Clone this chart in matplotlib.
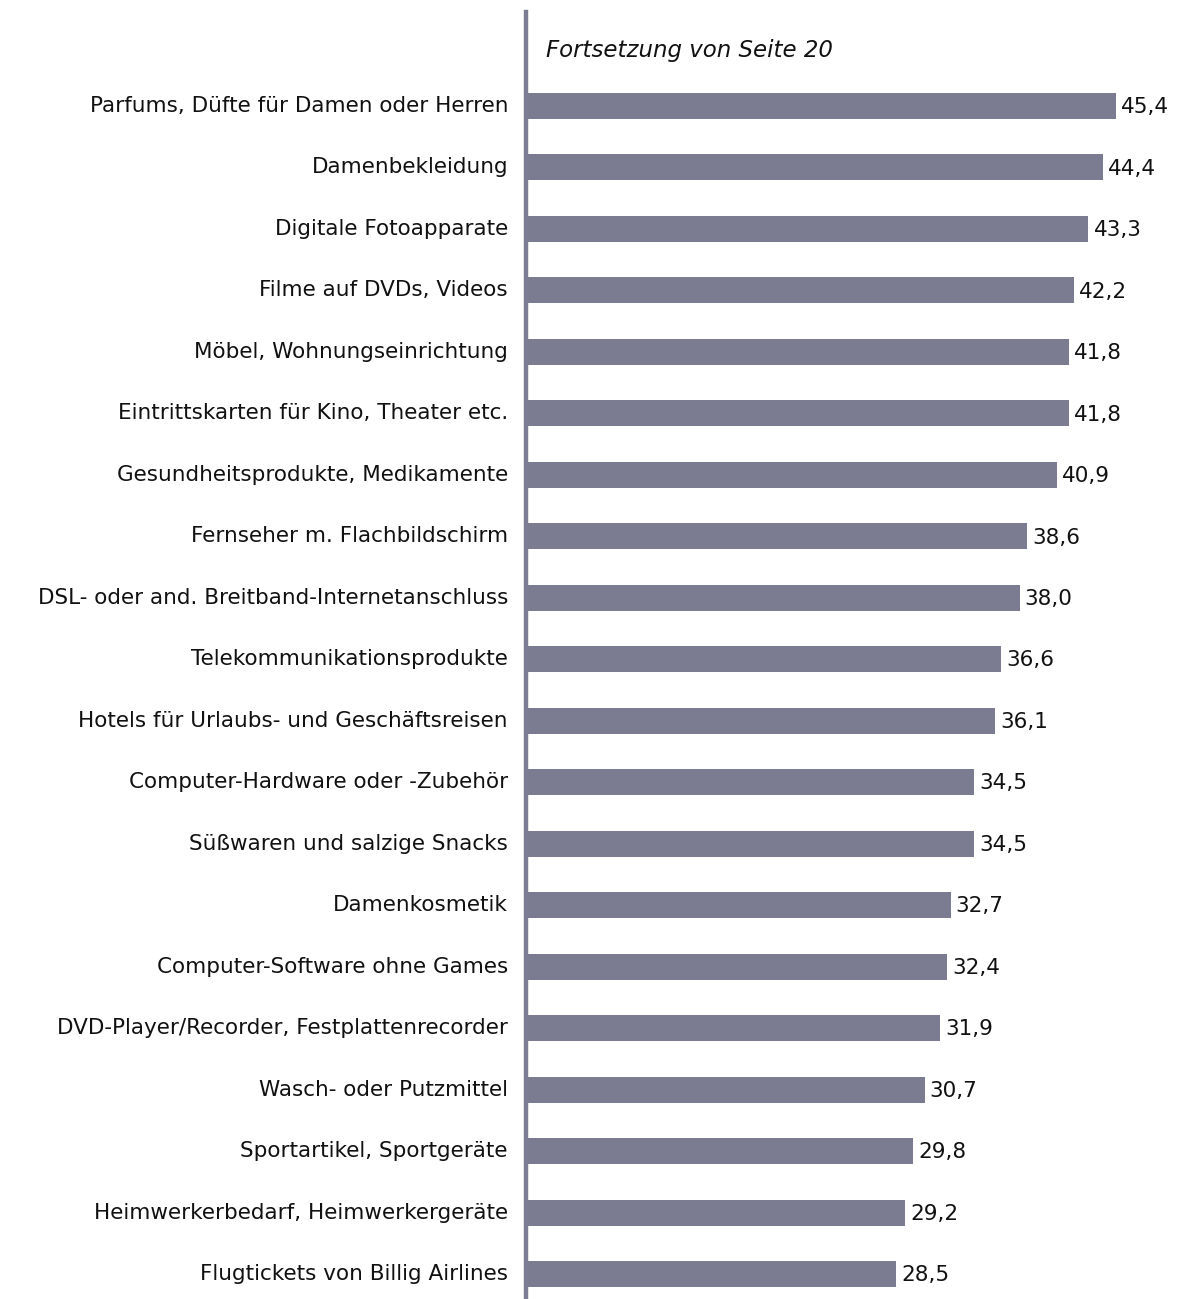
import matplotlib
matplotlib.use("Agg")
import matplotlib.pyplot as plt

categories = [
    "Parfums, Düfte für Damen oder Herren",
    "Damenbekleidung",
    "Digitale Fotoapparate",
    "Filme auf DVDs, Videos",
    "Möbel, Wohnungseinrichtung",
    "Eintrittskarten für Kino, Theater etc.",
    "Gesundheitsprodukte, Medikamente",
    "Fernseher m. Flachbildschirm",
    "DSL- oder and. Breitband-Internetanschluss",
    "Telekommunikationsprodukte",
    "Hotels für Urlaubs- und Geschäftsreisen",
    "Computer-Hardware oder -Zubehör",
    "Süßwaren und salzige Snacks",
    "Damenkosmetik",
    "Computer-Software ohne Games",
    "DVD-Player/Recorder, Festplattenrecorder",
    "Wasch- oder Putzmittel",
    "Sportartikel, Sportgeräte",
    "Heimwerkerbedarf, Heimwerkergeräte",
    "Flugtickets von Billig Airlines",
]
values = [45.4, 44.4, 43.3, 42.2, 41.8, 41.8, 40.9, 38.6, 38.0, 36.6,
          36.1, 34.5, 34.5, 32.7, 32.4, 31.9, 30.7, 29.8, 29.2, 28.5]
title_text = "Fortsetzung von Seite 20"

W, H = 1180, 1299
fig = plt.figure(figsize=(W / 100, H / 100), dpi=100)
left_px = 525.5
top_px = 12
ax = fig.add_axes([left_px / W, 0, 1 - left_px / W, 1 - top_px / H])

bar_color = "#7b7b92"
ypos = list(range(len(categories)))
ax.barh(ypos, values, height=0.423, color=bar_color, zorder=2)

px_per_unit = 13.0
ax.set_xlim(0, (W - left_px) / px_per_unit)
ax.set_ylim(19 + (H - 1274) / 61.47, -(106 - top_px) / 61.47)

fs = 15.5
for y, v in zip(ypos, values):
    ax.text(v + 0.4, y + 0.02, f"{v:.1f}".replace(".", ","), va="center", ha="left",
            fontsize=fs, color="#111111")

ax.set_yticks(ypos)
ax.set_yticklabels(categories, fontsize=fs, color="#111111")
for lbl in ax.get_yticklabels():
    lbl.set_verticalalignment("center")
ax.tick_params(axis="y", length=0, pad=12.6)
ax.set_xticks([])

for s in ["top", "right", "bottom"]:
    ax.spines[s].set_visible(False)
ax.spines["left"].set_color(bar_color)
ax.spines["left"].set_linewidth(3.2)
ax.spines["left"].set_zorder(3)

ax.text(1.6, -(106 - 50) / 61.47, title_text, fontsize=16.5, style="italic",
        color="#111111", va="center", ha="left")

fig.savefig("out.png", dpi=100)
